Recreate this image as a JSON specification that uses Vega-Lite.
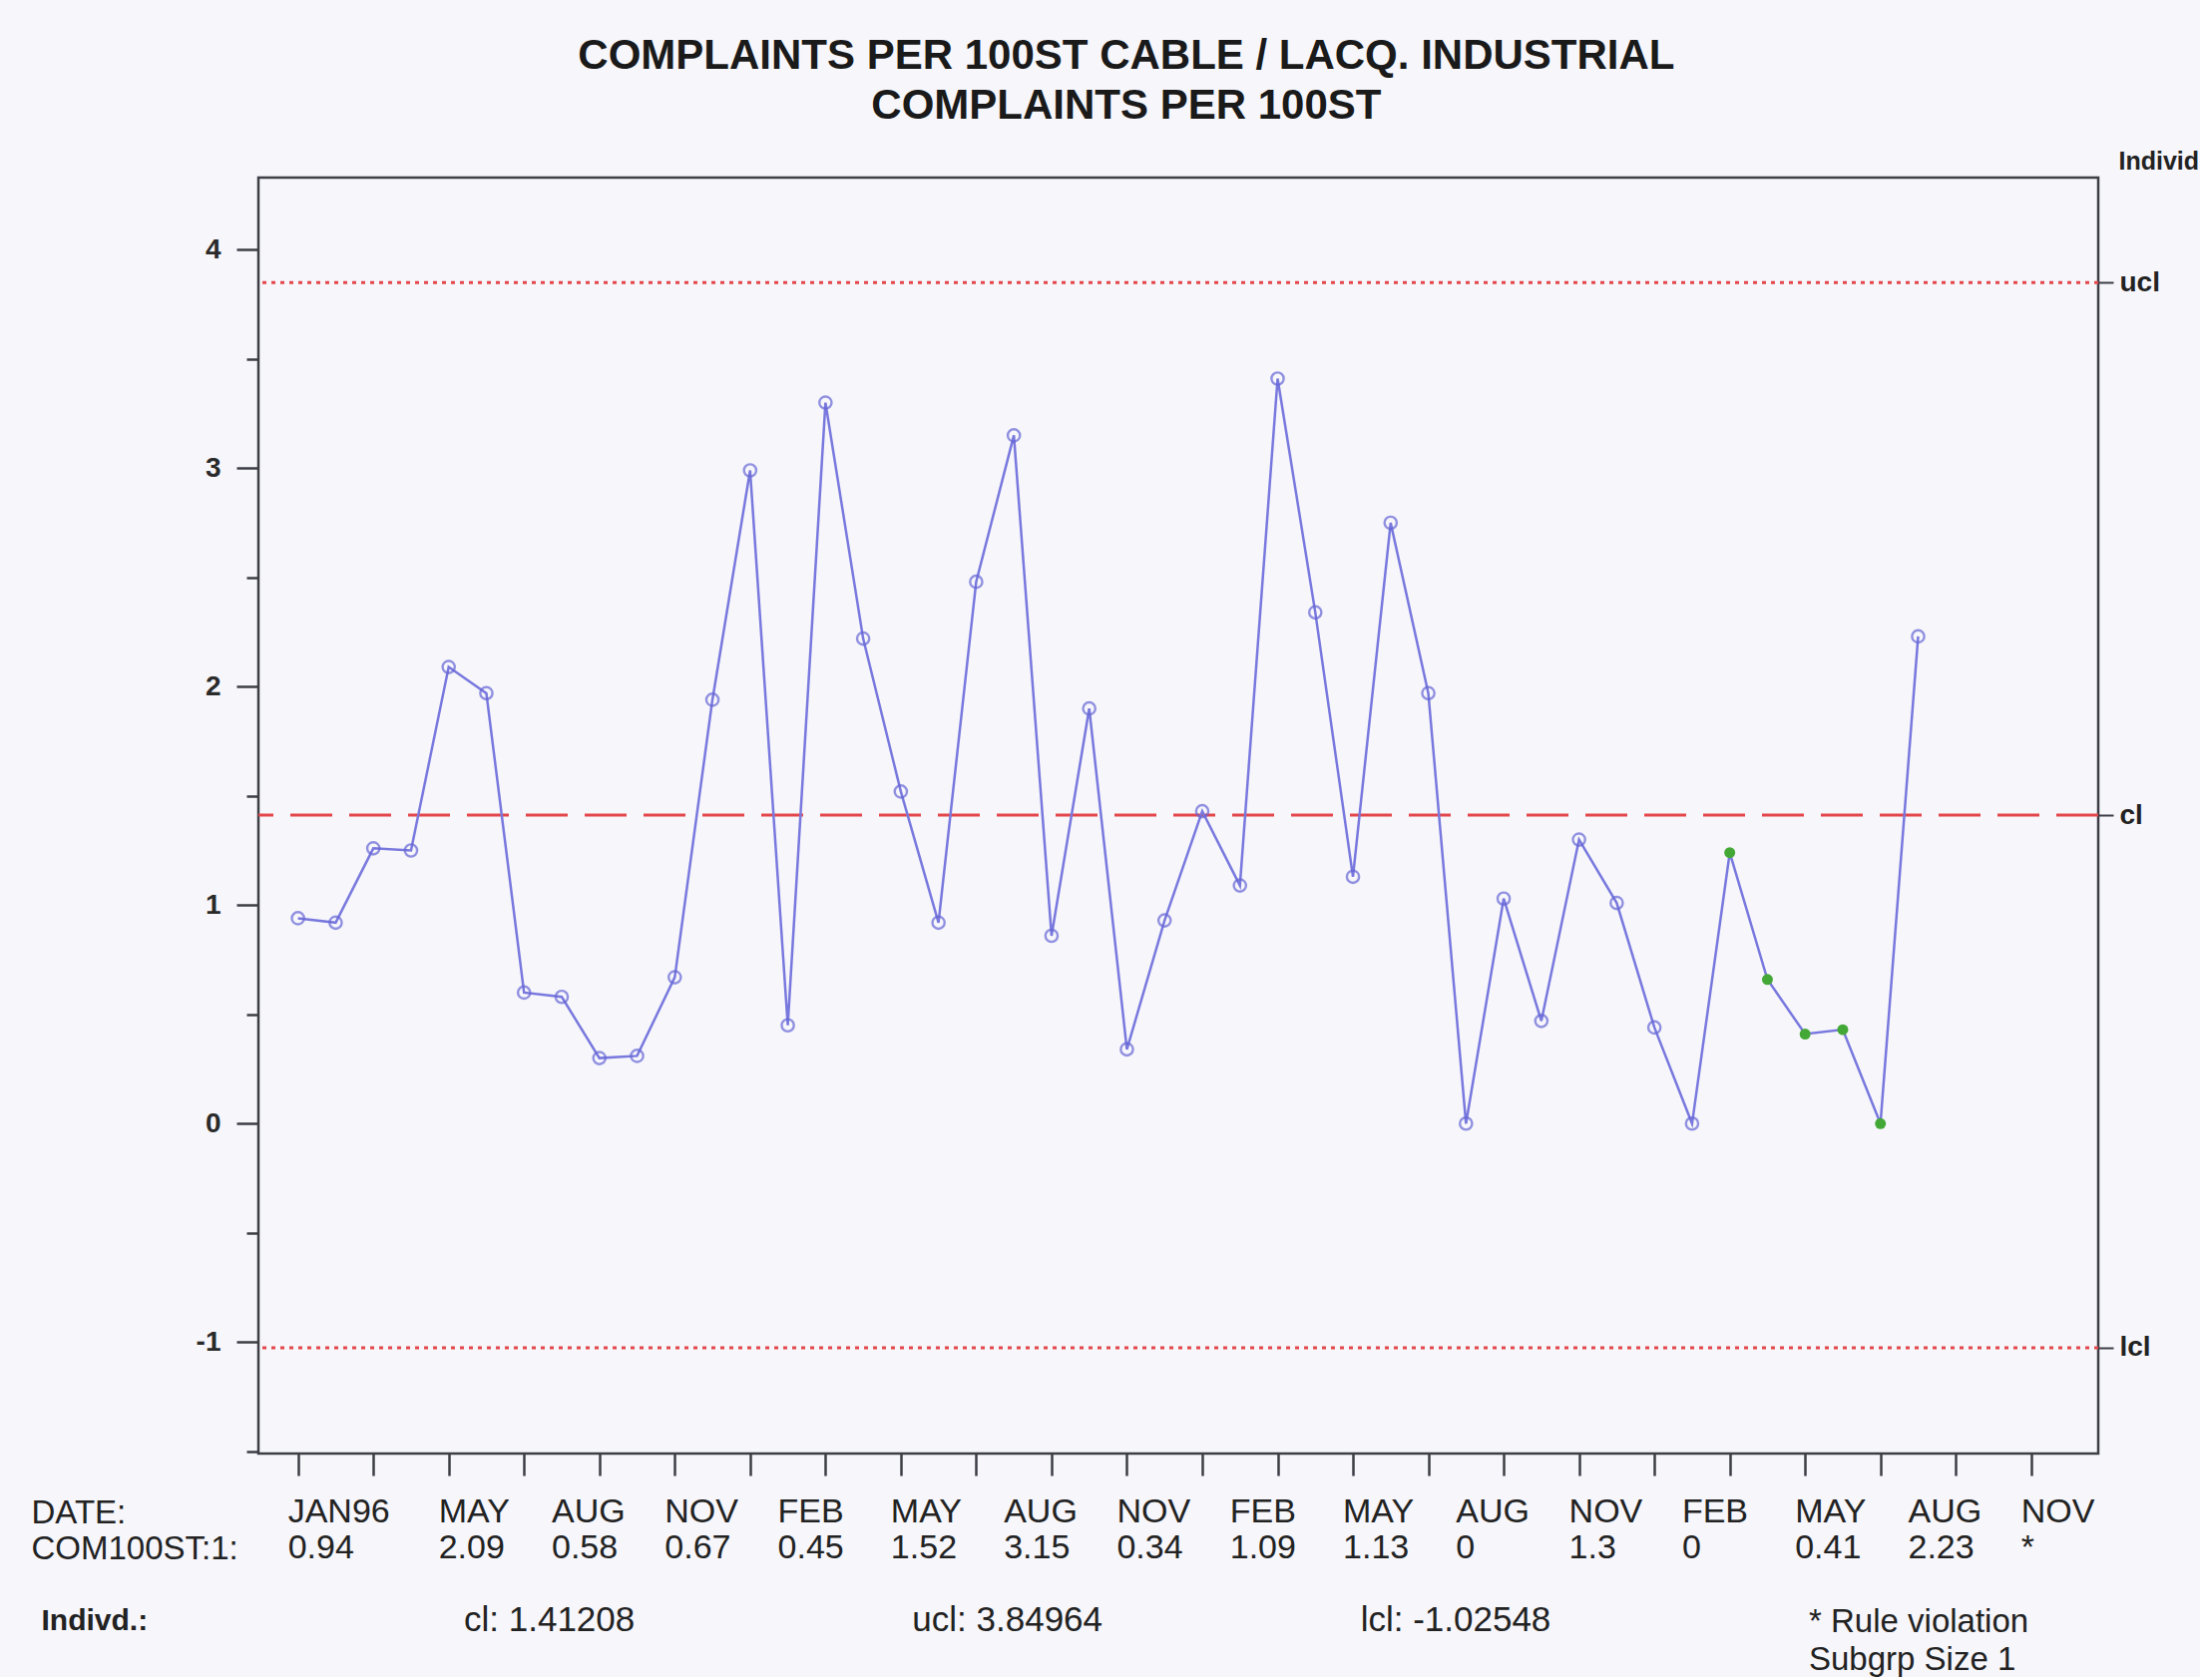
{
  "$schema": "https://vega.github.io/schema/vega-lite/v6.json",
  "background": "#f6f6fb",
  "padding": {"left": 31, "top": 34, "right": 0, "bottom": 0},
  "title": {
    "text": ["COMPLAINTS PER 100ST CABLE / LACQ. INDUSTRIAL", "COMPLAINTS PER 100ST"],
    "font": "Liberation Sans",
    "fontSize": 42,
    "fontWeight": "bold",
    "lineHeight": 50,
    "color": "#1a1a1a",
    "anchor": "middle",
    "dx": 11,
    "offset": 20
  },
  "datasets": {
    "complaints": [
      {"m": 1, "mon": "JAN96", "v": 0.94, "violation": false},
      {"m": 2, "mon": "FEB", "v": 0.92, "violation": false},
      {"m": 3, "mon": "MAR", "v": 1.26, "violation": false},
      {"m": 4, "mon": "APR", "v": 1.25, "violation": false},
      {"m": 5, "mon": "MAY", "v": 2.09, "violation": false},
      {"m": 6, "mon": "JUN", "v": 1.97, "violation": false},
      {"m": 7, "mon": "JUL", "v": 0.6, "violation": false},
      {"m": 8, "mon": "AUG", "v": 0.58, "violation": false},
      {"m": 9, "mon": "SEP", "v": 0.3, "violation": false},
      {"m": 10, "mon": "OCT", "v": 0.31, "violation": false},
      {"m": 11, "mon": "NOV", "v": 0.67, "violation": false},
      {"m": 12, "mon": "DEC", "v": 1.94, "violation": false},
      {"m": 13, "mon": "JAN97", "v": 2.99, "violation": false},
      {"m": 14, "mon": "FEB", "v": 0.45, "violation": false},
      {"m": 15, "mon": "MAR", "v": 3.3, "violation": false},
      {"m": 16, "mon": "APR", "v": 2.22, "violation": false},
      {"m": 17, "mon": "MAY", "v": 1.52, "violation": false},
      {"m": 18, "mon": "JUN", "v": 0.92, "violation": false},
      {"m": 19, "mon": "JUL", "v": 2.48, "violation": false},
      {"m": 20, "mon": "AUG", "v": 3.15, "violation": false},
      {"m": 21, "mon": "SEP", "v": 0.86, "violation": false},
      {"m": 22, "mon": "OCT", "v": 1.9, "violation": false},
      {"m": 23, "mon": "NOV", "v": 0.34, "violation": false},
      {"m": 24, "mon": "DEC", "v": 0.93, "violation": false},
      {"m": 25, "mon": "JAN98", "v": 1.43, "violation": false},
      {"m": 26, "mon": "FEB", "v": 1.09, "violation": false},
      {"m": 27, "mon": "MAR", "v": 3.41, "violation": false},
      {"m": 28, "mon": "APR", "v": 2.34, "violation": false},
      {"m": 29, "mon": "MAY", "v": 1.13, "violation": false},
      {"m": 30, "mon": "JUN", "v": 2.75, "violation": false},
      {"m": 31, "mon": "JUL", "v": 1.97, "violation": false},
      {"m": 32, "mon": "AUG", "v": 0, "violation": false},
      {"m": 33, "mon": "SEP", "v": 1.03, "violation": false},
      {"m": 34, "mon": "OCT", "v": 0.47, "violation": false},
      {"m": 35, "mon": "NOV", "v": 1.3, "violation": false},
      {"m": 36, "mon": "DEC", "v": 1.01, "violation": false},
      {"m": 37, "mon": "JAN99", "v": 0.44, "violation": false},
      {"m": 38, "mon": "FEB", "v": 0, "violation": false},
      {"m": 39, "mon": "MAR", "v": 1.24, "violation": true},
      {"m": 40, "mon": "APR", "v": 0.66, "violation": true},
      {"m": 41, "mon": "MAY", "v": 0.41, "violation": true},
      {"m": 42, "mon": "JUN", "v": 0.43, "violation": true},
      {"m": 43, "mon": "JUL", "v": 0, "violation": true},
      {"m": 44, "mon": "AUG", "v": 2.23, "violation": false},
      {"m": 45, "mon": "SEP", "v": null, "violation": false},
      {"m": 46, "mon": "OCT", "v": null, "violation": false},
      {"m": 47, "mon": "NOV", "v": null, "violation": false},
      {"m": 48, "mon": "DEC", "v": null, "violation": false}
    ],
    "limits": [
      {"name": "ucl", "value": 3.84964},
      {"name": "cl", "value": 1.41208},
      {"name": "lcl", "value": -1.02548}
    ],
    "notes": [
      {"note": "* Rule violation\nSubgrp Size 1"}
    ]
  },
  "spacing": 16,
  "vconcat": [
    {
      "width": 1844,
      "height": 1279,
      "view": {"stroke": "#3d3d46", "strokeWidth": 2.5, "fill": "#f6f6fb"},
      "layer": [
        {
          "data": {"name": "limits"},
          "mark": {"type": "rule", "color": "#e4474b", "strokeWidth": 3},
          "encoding": {
            "y": {
              "field": "value",
              "type": "quantitative",
              "scale": {"domain": [-1.51, 4.33], "nice": false, "zero": false},
              "axis": {
                "orient": "right",
                "values": [3.84964, 1.41208, -1.02548],
                "labelExpr": "datum.value > 3 ? 'ucl' : datum.value > 0 ? 'cl' : 'lcl'",
                "grid": false,
                "domain": false,
                "tickSize": 15,
                "tickWidth": 2,
                "tickColor": "#3d3d46",
                "labelPadding": 6,
                "labelFont": "Liberation Sans",
                "labelFontSize": 28,
                "labelFontWeight": "bold",
                "labelColor": "#222222",
                "title": "Individ",
                "titleAngle": 0,
                "titleAlign": "left",
                "titleBaseline": "middle",
                "titleX": 20,
                "titleY": -17,
                "titleFont": "Liberation Sans",
                "titleFontSize": 25,
                "titleFontWeight": "bold",
                "titleColor": "#222222"
              }
            },
            "strokeDash": {
              "field": "name",
              "type": "nominal",
              "scale": {"domain": ["ucl", "cl", "lcl"], "range": [[4, 5], [42, 17], [4, 5]]},
              "legend": null
            }
          }
        },
        {
          "data": {"name": "complaints"},
          "transform": [{"filter": "isValid(datum.v)"}],
          "mark": {"type": "line", "color": "#7878de", "strokeWidth": 2.5},
          "encoding": {
            "x": {
              "field": "m",
              "type": "quantitative",
              "scale": {"domain": [-0.05, 48.78], "nice": false, "zero": false},
              "axis": {
                "values": [1, 2, 3, 4, 5, 6, 7, 8, 9, 10, 11, 12, 13, 14, 15, 16, 17, 18, 19, 20, 21, 22, 23, 24, 25, 26, 27, 28, 29, 30, 31, 32, 33, 34, 35, 36, 37, 38, 39, 40, 41, 42, 43, 44, 45, 46, 47, 48],
                "labels": false,
                "domain": false,
                "grid": false,
                "tickSize": 22,
                "tickWidth": 2.5,
                "tickColor": "#3d3d46",
                "title": null
              }
            },
            "y": {
              "field": "v",
              "type": "quantitative",
              "scale": {"domain": [-1.51, 4.33], "nice": false, "zero": false},
              "axis": {
                "orient": "left",
                "values": [-1.5, -1, -0.5, 0, 0.5, 1, 1.5, 2, 2.5, 3, 3.5, 4],
                "labelExpr": "datum.value % 1 === 0 ? '' + datum.value : ''",
                "grid": false,
                "domain": false,
                "tickSize": {"condition": {"test": "datum.value % 1 === 0", "value": 22}, "value": 12},
                "tickWidth": 2.5,
                "tickColor": "#3d3d46",
                "labelPadding": 16,
                "labelFont": "Liberation Sans",
                "labelFontSize": 28,
                "labelFontWeight": "bold",
                "labelColor": "#2a2a2a",
                "title": null
              }
            }
          }
        },
        {
          "data": {"name": "complaints"},
          "transform": [{"filter": "isValid(datum.v) && !datum.violation"}],
          "mark": {"type": "point", "shape": "circle", "filled": false, "color": "#6666d6", "size": 150, "strokeWidth": 2.4},
          "encoding": {
            "x": {"field": "m", "type": "quantitative", "scale": {"domain": [-0.05, 48.78], "nice": false, "zero": false}},
            "y": {"field": "v", "type": "quantitative", "scale": {"domain": [-1.51, 4.33], "nice": false, "zero": false}, "axis": null}
          }
        },
        {
          "data": {"name": "complaints"},
          "transform": [{"filter": "isValid(datum.v) && datum.violation"}],
          "mark": {"type": "point", "shape": "circle", "filled": true, "color": "#43a836", "size": 120, "opacity": 1},
          "encoding": {
            "x": {"field": "m", "type": "quantitative", "scale": {"domain": [-0.05, 48.78], "nice": false, "zero": false}},
            "y": {"field": "v", "type": "quantitative", "scale": {"domain": [-1.51, 4.33], "nice": false, "zero": false}, "axis": null}
          }
        }
      ],
      "resolve": {"axis": {"y": "independent"}}
    },
    {
      "width": 1844,
      "height": 144,
      "view": {"stroke": null},
      "layer": [
        {
          "data": {"name": "complaints"},
          "transform": [{"filter": "datum.m == 1 || (datum.m >= 5 && datum.m % 3 == 2)"}],
          "mark": {"type": "text", "align": "left", "baseline": "middle", "dx": -10, "font": "Liberation Sans", "fontSize": 34, "color": "#222222"},
          "encoding": {
            "x": {"field": "m", "type": "quantitative", "scale": {"domain": [-0.05, 48.78], "nice": false, "zero": false}, "axis": null},
            "y": {
              "datum": "DATE:",
              "type": "nominal",
              "scale": {"type": "point", "domain": ["DATE:", "COM100ST:1:", " ", "Indivd.:"], "padding": 0.5},
              "axis": {
                "orient": "left",
                "ticks": false,
                "domain": false,
                "grid": false,
                "title": null,
                "labelAlign": "left",
                "labelBaseline": "middle",
                "labelLimit": 0,
                "labelPadding": {"condition": {"test": "datum.value === 'Indivd.:'", "value": 218}, "value": 228},
                "labelFont": "Liberation Sans",
                "labelFontSize": {"condition": {"test": "datum.value === 'Indivd.:'", "value": 30}, "value": 33},
                "labelFontWeight": {"condition": {"test": "datum.value === 'Indivd.:'", "value": "bold"}, "value": "normal"},
                "labelColor": "#222222"
              }
            },
            "text": {"field": "mon", "type": "nominal"}
          }
        },
        {
          "data": {"name": "complaints"},
          "transform": [
            {"filter": "datum.m == 1 || (datum.m >= 5 && datum.m % 3 == 2)"},
            {"calculate": "isValid(datum.v) ? '' + datum.v : '*'", "as": "shown"}
          ],
          "mark": {"type": "text", "align": "left", "baseline": "middle", "dx": -10, "font": "Liberation Sans", "fontSize": 34, "color": "#222222"},
          "encoding": {
            "x": {"field": "m", "type": "quantitative", "scale": {"domain": [-0.05, 48.78], "nice": false, "zero": false}, "axis": null},
            "y": {"datum": "COM100ST:1:", "type": "nominal", "scale": {"type": "point", "domain": ["DATE:", "COM100ST:1:", " ", "Indivd.:"], "padding": 0.5}, "axis": null},
            "text": {"field": "shown", "type": "nominal"}
          }
        },
        {
          "data": {"name": "limits"},
          "transform": [{"calculate": "datum.name + ': ' + datum.value", "as": "shown"}],
          "mark": {"type": "text", "align": "left", "baseline": "middle", "font": "Liberation Sans", "fontSize": 35, "color": "#222222"},
          "encoding": {
            "x": {"field": "name", "type": "nominal", "scale": {"type": "point", "domain": ["cl", "ucl", "lcl", "note"], "range": [206, 1554], "padding": 0}, "axis": null},
            "y": {"datum": "Indivd.:", "type": "nominal", "scale": {"type": "point", "domain": ["DATE:", "COM100ST:1:", " ", "Indivd.:"], "padding": 0.5}, "axis": null},
            "text": {"field": "shown", "type": "nominal"}
          }
        },
        {
          "data": {"name": "notes"},
          "mark": {"type": "text", "align": "left", "baseline": "alphabetic", "dy": 12, "lineBreak": "\n", "lineHeight": 38, "font": "Liberation Sans", "fontSize": 33, "color": "#222222"},
          "encoding": {
            "x": {"datum": "note", "type": "nominal", "scale": {"type": "point", "domain": ["cl", "ucl", "lcl", "note"], "range": [206, 1554], "padding": 0}, "axis": null},
            "y": {"datum": "Indivd.:", "type": "nominal", "scale": {"type": "point", "domain": ["DATE:", "COM100ST:1:", " ", "Indivd.:"], "padding": 0.5}, "axis": null},
            "text": {"field": "note", "type": "nominal"}
          }
        }
      ],
      "resolve": {"scale": {"x": "independent"}, "axis": {"x": "independent", "y": "independent"}}
    }
  ]
}
